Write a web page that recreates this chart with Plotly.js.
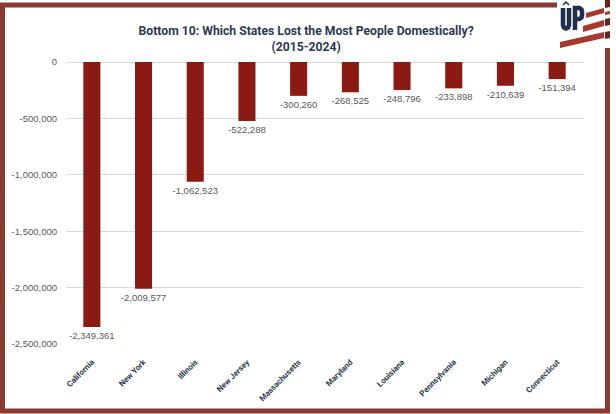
<!DOCTYPE html>
<html>
<head>
<meta charset="utf-8">
<script src="https://cdn.plot.ly/plotly-3.0.1.min.js"></script>
<style>html,body{margin:0;padding:0;background:#fff;}#chart{width:616px;height:414px;}</style>
</head>
<body>
<div id="chart"></div>
<script>
const states = ["California","New York","Illinois","New Jersey","Massachusetts","Maryland","Louisiana","Pennsylvania","Michigan","Connecticut"];
const netDomesticMigration = [-2349361,-2009577,-1062523,-522288,-300260,-268525,-248796,-233898,-210639,-151394];
const yTickValues = [0,-500000,-1000000,-1500000,-2000000,-2500000];
const yTickLabels = yTickValues.map(v => v.toLocaleString('en-US'));
const barLabels = netDomesticMigration.map(v => v.toLocaleString('en-US'));

const W = 616, H = 414;
const M = {l: 66, r: 33, t: 62, b: 70};
const pw = W - M.l - M.r, ph = H - M.t - M.b;
const PX = x => (x - M.l) / pw;
const PY = y => (H - M.b - y) / ph;
function path(pts) { return pts.map((p, i) => (i ? 'L' : 'M') + PX(p[0]).toFixed(4) + ',' + PY(p[1]).toFixed(4)).join(' ') + ' Z'; }
function openPath(pts) { return pts.map((p, i) => (i ? 'L' : 'M') + PX(p[0]).toFixed(4) + ',' + PY(p[1]).toFixed(4)).join(' '); }

const frameColor = '#8B3A30';
const navy = '#1F2F4F';
const shapes = [
  {type: 'path', xref: 'paper', yref: 'paper', path: openPath([[557,5],[2.5,5],[2.5,411],[607.5,411],[607.5,48]]), line: {color: frameColor, width: 5}, layer: 'above'},
  // logo stripes
  {type: 'path', xref: 'paper', yref: 'paper', path: path([[586,13],[604,8],[604,13],[586,18]]), fillcolor: '#A8372F', line: {width: 0}},
  {type: 'path', xref: 'paper', yref: 'paper', path: path([[583,26],[604,20],[604,26],[583,32]]), fillcolor: '#A8372F', line: {width: 0}},
  {type: 'path', xref: 'paper', yref: 'paper', path: path([[560,42],[604,32],[604,38],[560,48]]), fillcolor: '#A8372F', line: {width: 0}},
  {type: 'path', xref: 'paper', yref: 'paper', path: path([[605,0],[610,0],[610,7],[605,8]]), fillcolor: '#6E1F1A', line: {width: 0}},
  {type: 'path', xref: 'paper', yref: 'paper', path: path([[605,12],[610,11],[610,14],[605,15]]), fillcolor: '#A8372F', line: {width: 0}},
  {type: 'path', xref: 'paper', yref: 'paper', path: path([[605,19],[610,18],[610,25],[605,26]]), fillcolor: '#6E1F1A', line: {width: 0}},
  {type: 'path', xref: 'paper', yref: 'paper', path: path([[605,32],[610,31],[610,38],[605,39]]), fillcolor: '#6E1F1A', line: {width: 0}},
  // logo letters "UP"
  {type: 'path', xref: 'paper', yref: 'paper', path: openPath([[563,8],[563,25],[564,27.5],[566,28.5],[568,27.5],[569,25],[569,8]]), line: {color: navy, width: 4.5}},
  {type: 'path', xref: 'paper', yref: 'paper', path: openPath([[575,30],[575,8],[579.5,8],[581.5,9.5],[582,12],[582,15],[581.5,17.5],[579.5,19],[575,19]]), line: {color: navy, width: 4.5}},
  {type: 'path', xref: 'paper', yref: 'paper', path: openPath([[563,5],[566,2],[569,5]]), line: {color: navy, width: 1.5}}
];

const data = [{
  type: 'bar',
  x: states,
  y: netDomesticMigration,
  marker: {color: '#8B1A13'},
  text: barLabels,
  textposition: 'outside',
  texttemplate: '%{text}',
  constraintext: 'none',
  textfont: {family: 'Liberation Sans, Arial, sans-serif', size: 9.5, color: '#595959'},
  cliponaxis: false,
  hoverinfo: 'none'
}];

const layout = {
  width: W, height: H,
  margin: M,
  paper_bgcolor: '#fff', plot_bgcolor: '#fff',
  showlegend: false,
  bargap: 0.67,
  title: {
    text: '<b>Bottom 10: Which States Lost the Most People Domestically?<br>(2015-2024)</b>',
    font: {family: 'Roboto, sans-serif', size: 12.2, color: '#2E3A52'},
    x: 0.497, xref: 'container', xanchor: 'center',
    y: 1 - 35 / H, yref: 'container', yanchor: 'middle'
  },
  xaxis: {
    type: 'category',
    tickangle: -45,
    tickfont: {family: 'Roboto, sans-serif', size: 8, color: '#2E3A52', weight: 'bold'},
    ticks: '', showline: false, showgrid: false, zeroline: false,
    ticklabelstandoff: 11
  },
  yaxis: {
    range: [-2500000, 0],
    tickvals: yTickValues,
    ticktext: yTickLabels,
    tickfont: {family: 'Liberation Sans, Arial, sans-serif', size: 9.5, color: '#595959'},
    showgrid: true, gridcolor: '#D9D9D9', gridwidth: 1,
    zeroline: true, zerolinecolor: '#D9D9D9', zerolinewidth: 1,
    showline: false, ticks: '', ticklabelstandoff: 8
  },
  shapes: shapes
};

Plotly.newPlot('chart', data, layout, {displayModeBar: false, staticPlot: true});
</script>
</body>
</html>
